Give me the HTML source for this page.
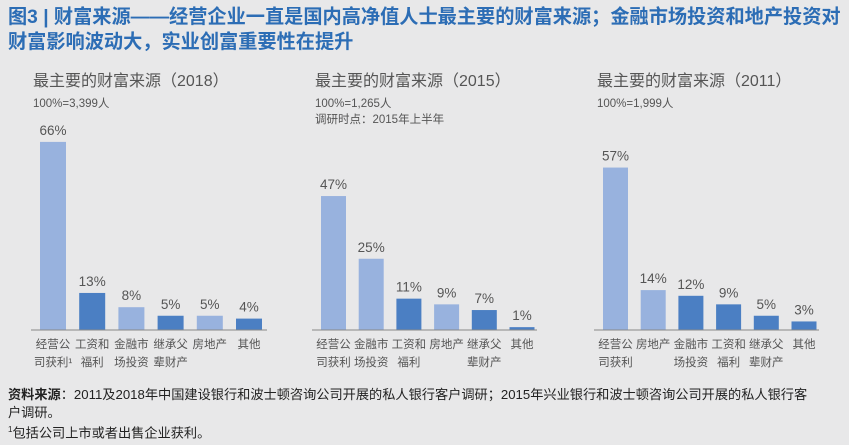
<!DOCTYPE html>
<html><head><meta charset="utf-8"><style>
body{margin:0;width:849px;height:445px;background:#e8e8e9;font-family:"Liberation Sans","Noto Sans CJK SC",sans-serif;overflow:hidden;position:relative}
.t{position:absolute;left:8px;top:5px;font-size:19.2px;font-weight:bold;color:#2c6db5;line-height:25px;width:845px;white-space:nowrap}
.ct{position:absolute;font-size:16px;color:#555;top:67px}
.n{position:absolute;font-size:11.5px;color:#555;line-height:16px;top:96px}
.src{position:absolute;left:8px;top:386px;font-size:13.2px;color:#222;line-height:17.5px;width:845px;white-space:nowrap}
svg{position:absolute;left:0;top:0}
</style></head><body>
<div class="t">图3 | 财富来源——经营企业一直是国内高净值人士最主要的财富来源；金融市场投资和地产投资对<br>财富影响波动大，实业创富重要性在提升</div>
<div class="ct" style="left:33px">最主要的财富来源（2018）</div>
<div class="ct" style="left:315px">最主要的财富来源（2015）</div>
<div class="ct" style="left:597px">最主要的财富来源（2011）</div>
<div class="n" style="left:33px">100%=3,399人</div>
<div class="n" style="left:315px">100%=1,265人<br>调研时点：2015年上半年</div>
<div class="n" style="left:597px">100%=1,999人</div>
<svg id="s" width="849" height="445"></svg>
<div class="src"><b>资料来源</b>：2011及2018年中国建设银行和波士顿咨询公司开展的私人银行客户调研；2015年兴业银行和波士顿咨询公司开展的私人银行客<br>户调研。<br><sup style="font-size:8px">1</sup>包括公司上市或者出售企业获利。</div>
<script>
const cats2018=["经营公|司获利¹","工资和|福利","金融市|场投资","继承父|辈财产","房地产","其他"];
const vals2018=[66,13,8,5,5,4];
const shade2018=[0,1,0,1,0,1];
const cats2015=["经营公|司获利","金融市|场投资","工资和|福利","房地产","继承父|辈财产","其他"];
const vals2015=[47,25,11,9,7,1];
const shade2015=[0,0,1,0,1,1];
const cats2011=["经营公|司获利","房地产","金融市|场投资","工资和|福利","继承父|辈财产","其他"];
const vals2011=[57,14,12,9,5,3];
const shade2011=[0,0,1,1,1,1];
const svg=document.getElementById('s');const NS='http://www.w3.org/2000/svg';
const base=330, k=2.85;
function y(v){return base-v*k;}
function mk(t,a){const e=document.createElementNS(NS,t);for(const q in a)e.setAttribute(q,a[q]);svg.appendChild(e);return e;}
function chart(name,cats,vals,shade,x0,step,w,ax0,ax1){
  cats.forEach((c,i)=>{
    const x=x0+i*step;
    const r=mk('rect',{x:x,y:y(vals[i]),width:w,height:base-y(vals[i]),fill:shade[i]?'#4b7fc3':'#98b2de'});
    
    
    const t=mk('text',{x:x+w/2,y:y(vals[i])-7,'text-anchor':'middle','font-size':'13.5',fill:'#555'});
    t.textContent=vals[i]+'%';
    
    
    c.split('|').forEach((ln,j)=>{
      const l=mk('text',{x:x+w/2,y:348+j*18,'text-anchor':'middle','font-size':'11.5',fill:'#555'});
      l.textContent=ln;
      
      
    });
  });
  const a=mk('line',{x1:ax0,x2:ax1,y1:base,y2:base,stroke:'#888','stroke-width':1});
  
  
}
chart('2018',cats2018,vals2018,shade2018,40,39.2,26,31,267);
chart('2015',cats2015,vals2015,shade2015,321,37.7,25,312,537);
chart('2011',cats2011,vals2011,shade2011,603,37.7,25,594,819);
</script>
</body></html>
